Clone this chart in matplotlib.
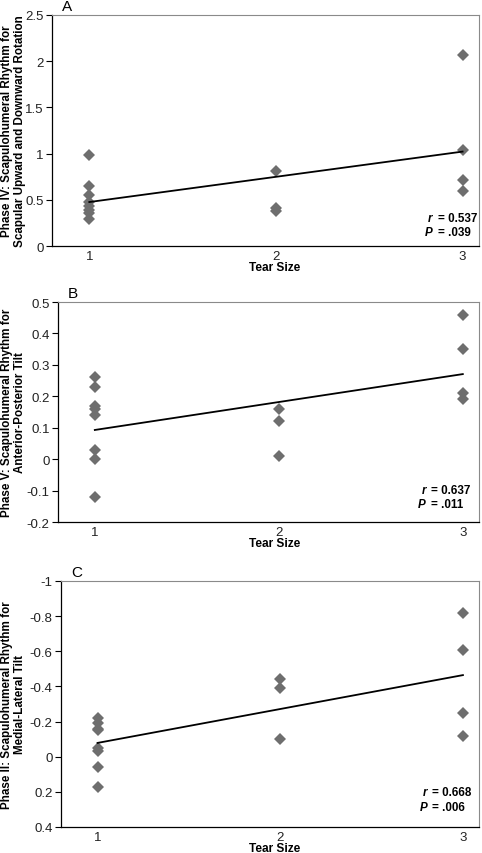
import numpy as np
import matplotlib
matplotlib.use("Agg")
import matplotlib.pyplot as plt
from matplotlib.ticker import FuncFormatter

plt.rcParams["font.family"] = ["Liberation Sans", "DejaVu Sans"]

W, H = 482, 854

# tear size groups
tear_x = [1] * 8 + [2] * 3 + [3] * 4

# panel A: phase IV, upward/downward rotation
rot_y = [0.98, 0.65, 0.55, 0.48, 0.43, 0.39, 0.36, 0.29,
         0.81, 0.41, 0.38,
         2.07, 1.04, 0.71, 0.59]

# panel B: phase V, anterior-posterior tilt
ap_y = [0.26, 0.23, 0.17, 0.16, 0.14, 0.03, 0.00, -0.12,
        0.16, 0.12, 0.01,
        0.46, 0.35, 0.21, 0.19]

# panel C: phase II, medial-lateral tilt
ml_y = [-0.22, -0.19, -0.16, -0.15, -0.05, -0.03, 0.06, 0.17,
        -0.44, -0.39, -0.10,
        -0.82, -0.61, -0.25, -0.12]

panels = [
    dict(letter="A", y=rot_y, ylim=(0, 2.5), yticks=[0, 0.5, 1, 1.5, 2, 2.5],
         ylabel="Phase IV: Scapulohumeral Rhythm for\nScapular Upward and Downward Rotation",
         r="0.537", p=".039", box=(52, 16, 479, 247),
         eq_x=437.5, r_y=221.7, p_y=236),
    dict(letter="B", y=ap_y, ylim=(-0.2, 0.5), yticks=[-0.2, -0.1, 0, 0.1, 0.2, 0.3, 0.4, 0.5],
         ylabel="Phase V: Scapulohumeral Rhythm for\nAnterior-Posterior Tilt",
         r="0.637", p=".011", box=(58, 303, 479, 523),
         eq_x=431, r_y=494, p_y=508),
    dict(letter="C", y=ml_y, ylim=(0.4, -1), yticks=[0.4, 0.2, 0, -0.2, -0.4, -0.6, -0.8, -1],
         ylabel="Phase II: Scapulohumeral Rhythm for\nMedial-Lateral Tilt",
         r="0.668", p=".006", box=(61, 582, 479, 828),
         eq_x=432.5, r_y=795.7, p_y=811),
]

fig = plt.figure(figsize=(W / 100, H / 100), dpi=100)
fmt = FuncFormatter(lambda v, pos: "%g" % round(v, 3))

for pn in panels:
    l, t, r, b = pn["box"]
    ax = fig.add_axes([l / W, 1 - b / H, (r - l) / W, (b - t) / H])
    x = np.array(tear_x, dtype=float)
    y = np.array(pn["y"])
    ax.plot(x, y, linestyle="none", marker="D", ms=6, color="#6e6e6e",
            markeredgewidth=0, zorder=3)
    slope, icpt = np.polyfit(x, y, 1)
    xl = np.array([1.0, 3.0])
    ax.plot(xl, slope * xl + icpt, color="black", lw=1.3, zorder=4)

    ax.set_xlim(0.8, 3.088)
    ax.set_ylim(*pn["ylim"])
    ax.set_xticks([1, 2, 3])
    ax.set_yticks(pn["yticks"])
    ax.yaxis.set_major_formatter(fmt)
    ax.tick_params(axis="y", direction="out", length=4, width=0.8, pad=2,
                   labelsize=9.5, colors="black", labelcolor="#222222")
    ax.tick_params(axis="x", length=0, pad=3, labelsize=9.5, labelcolor="#222222")
    for s in ("left", "bottom"):
        ax.spines[s].set_color("black")
        ax.spines[s].set_linewidth(0.9)
    for s in ("top", "right"):
        ax.spines[s].set_color("#8a8a8a")
        ax.spines[s].set_linewidth(0.8)

    ax.set_ylabel(pn["ylabel"], fontsize=8.4, fontweight="bold", linespacing=1.12)
    ax.yaxis.set_label_coords(26 / W, 1 - ((t + b) / 2) / H, transform=fig.transFigure)
    ax.set_xlabel("Tear Size", fontsize=8.6, fontweight="bold")
    ax.xaxis.set_label_coords(275 / W, 1 - (b + 15) / H, transform=fig.transFigure)
    ax.xaxis.label.set_va("top")

    fig.text((l + 10) / W, 1 - (t - 4.7) / H, pn["letter"], fontsize=11,
             ha="left", va="baseline")

    ex = pn["eq_x"]
    fig.text((ex - 5) / W, 1 - pn["r_y"] / H, "r", fontsize=8.4, fontweight="bold",
             fontstyle="italic", ha="right", va="baseline")
    fig.text(ex / W, 1 - pn["r_y"] / H, "= " + pn["r"], fontsize=8.4,
             fontweight="bold", ha="left", va="baseline")
    fig.text((ex - 5) / W, 1 - pn["p_y"] / H, "P", fontsize=8.4, fontweight="bold",
             fontstyle="italic", ha="right", va="baseline")
    fig.text(ex / W, 1 - pn["p_y"] / H, "= " + pn["p"], fontsize=8.4,
             fontweight="bold", ha="left", va="baseline")

fig.savefig("out.png", dpi=100)
